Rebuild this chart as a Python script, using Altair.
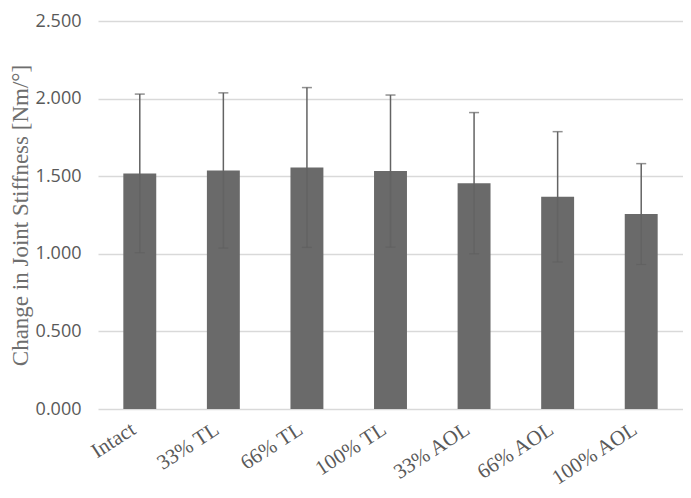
import altair as alt
import pandas as pd

categories = ["Intact", "33% TL", "66% TL", "100% TL", "33% AOL", "66% AOL", "100% AOL"]
means = [1.518, 1.537, 1.556, 1.533, 1.455, 1.367, 1.256]
sds = [0.511, 0.500, 0.515, 0.490, 0.455, 0.420, 0.325]
y_ticks = [0.0, 0.5, 1.0, 1.5, 2.0, 2.5]

df = pd.DataFrame({"cat": categories, "mean": means, "sd": sds})
df["lo"] = df["mean"] - df["sd"]
df["hi"] = df["mean"] + df["sd"]

PLOT_W = 585
PLOT_H = 388

x = alt.X(
    "cat:N",
    sort=categories,
    scale=alt.Scale(paddingInner=0.606, paddingOuter=0.303),
    axis=alt.Axis(
        title=None,
        labelAngle=-33,
        labelAlign="right",
        labelBaseline="top",
        labelFont="Liberation Serif",
        labelFontSize=21,
        labelColor="#595959",
        labelPadding=9,
        labelOffset=-12,
        ticks=False,
        tickSize=0,
        domain=False,
        grid=False,
    ),
)

yscale = alt.Scale(domain=[0, 2.5], nice=False, zero=True)

bars = alt.Chart(df).mark_bar(color="#6a6a6a").encode(
    x=x,
    y=alt.Y(
        "mean:Q",
        scale=yscale,
        axis=alt.Axis(
            values=y_ticks,
            format=".3f",
            title="Change in Joint Stiffness [Nm/°]",
            titleFont="Liberation Serif",
            titleFontSize=23,
            titleFontWeight="normal",
            titleColor="#6e6e6e",
            titleAngle=-90,
            titleX=-78,
            titleY=PLOT_H / 2,
            titleAlign="center",
            titleBaseline="middle",
            labelFont="Open Sans",
            labelFontSize=18,
            labelColor="#595959",
            labelPadding=17,
            ticks=False,
            tickSize=0,
            domain=False,
            grid=True,
            gridColor="#d9d9d9",
            gridWidth=1.5,
        ),
    ),
)

xs = alt.X("cat:N", sort=categories)

rules = alt.Chart(df).mark_rule(color="#636363", strokeWidth=1.5).encode(
    x=xs,
    y=alt.Y("lo:Q", scale=yscale),
    y2="hi:Q",
)

caps_hi = alt.Chart(df).mark_tick(color="#636363", size=10, thickness=1.5).encode(
    x=xs,
    y=alt.Y("hi:Q", scale=yscale),
)
caps_lo = alt.Chart(df).mark_tick(color="#606060", size=10, thickness=1.2).encode(
    x=xs,
    y=alt.Y("lo:Q", scale=yscale),
)

chart = (
    alt.layer(bars, rules, caps_hi, caps_lo)
    .properties(
        width=PLOT_W,
        height=PLOT_H,
        background="white",
        autosize=alt.AutoSizeParams(type="none"),
        padding={"left": 90, "top": 13, "right": 0, "bottom": 81},
    )
    .configure_axis(domain=False, ticks=False)
    .configure_view(strokeWidth=0, stroke="transparent")
)

chart.save("out.html", embed_options={"renderer": "svg", "actions": False})
